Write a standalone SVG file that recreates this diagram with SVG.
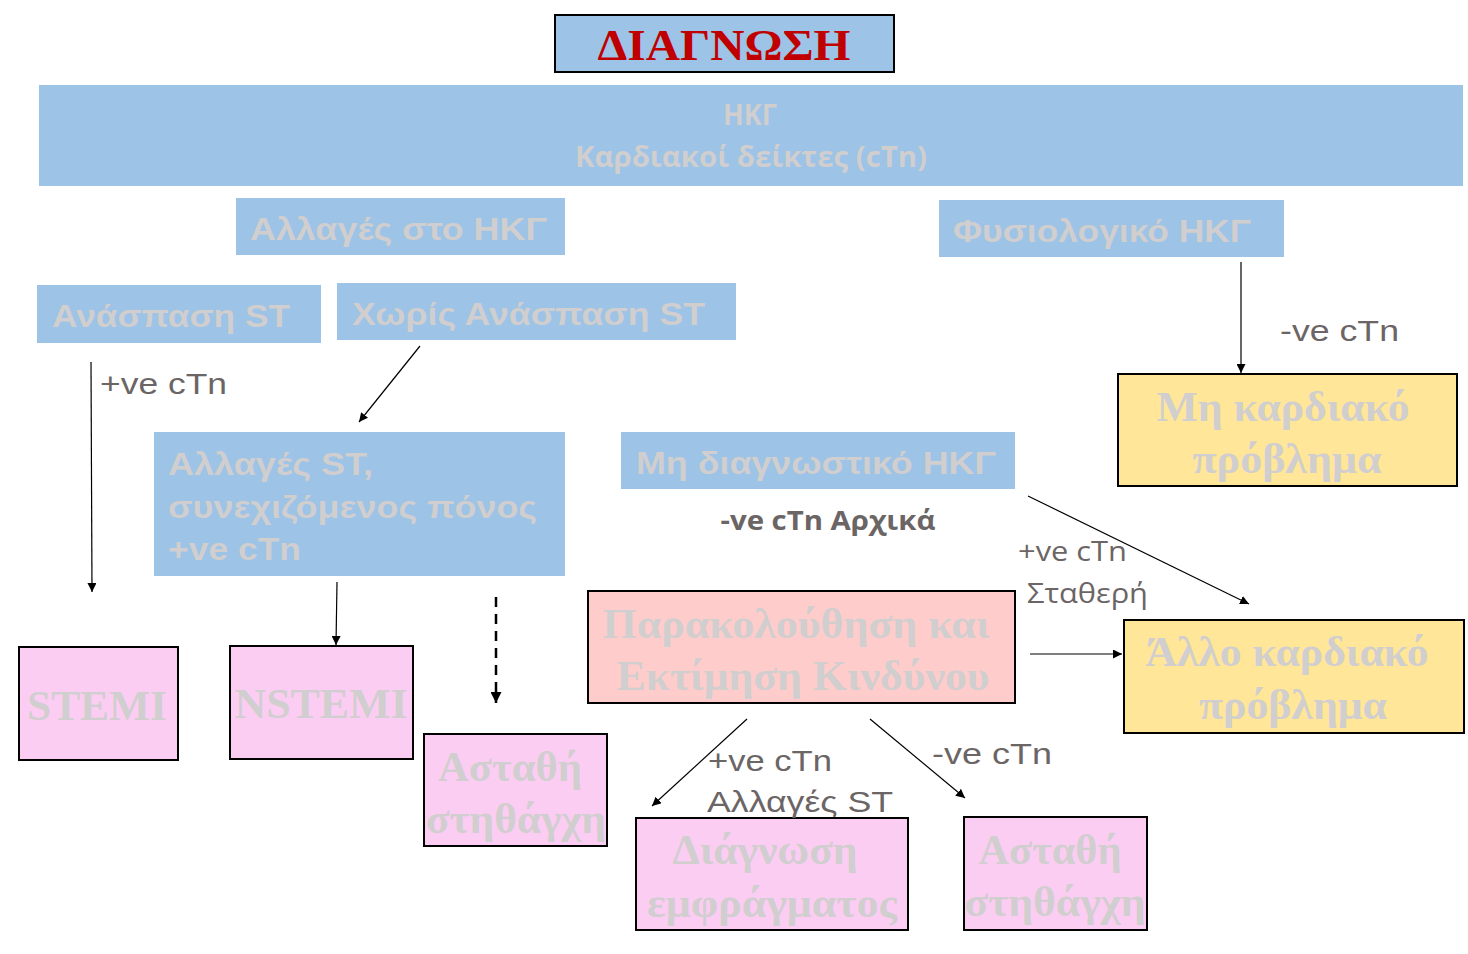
<svg xmlns="http://www.w3.org/2000/svg" width="1468" height="954" viewBox="0 0 1468 954">
<style>
.blue{fill:#9dc3e6}
.pink{fill:#fccdf3;stroke:#000;stroke-width:2}
.salmon{fill:#ffcccc;stroke:#000;stroke-width:2}
.yellow{fill:#ffe699;stroke:#000;stroke-width:2}
.st{font-family:"Liberation Sans",Arial,sans-serif;font-weight:bold;fill:#d0cece;font-size:32px}
.ser{font-family:"Liberation Serif","Times New Roman",serif;font-weight:bold;fill:#d0cece;font-size:43px}
.lbl{font-family:"Liberation Sans",Arial,sans-serif;fill:#6b6565;font-size:30px}
.lbl2{font-family:"Open Sans","DejaVu Sans",sans-serif;fill:#6b6565;font-size:27px}
.conn{stroke:#000;stroke-width:1.2;fill:none}
</style>
<defs>
<marker id="ah" viewBox="0 0 10 10" refX="10" refY="5" markerWidth="9" markerHeight="9" markerUnits="userSpaceOnUse" orient="auto">
<path d="M0,0 L10,5 L0,10 z" fill="#000"/>
</marker>
<marker id="ah2" viewBox="0 0 10 10" refX="10" refY="5" markerWidth="11" markerHeight="11" markerUnits="userSpaceOnUse" orient="auto">
<path d="M0,0 L10,5 L0,10 z" fill="#000"/>
</marker>
</defs>
<rect width="1468" height="954" fill="#fff"/>

<g id="title">
<rect x="555" y="15" width="339" height="57" class="blue" stroke="#000" stroke-width="2"/>
<text x="724" y="60" text-anchor="middle" font-family="Liberation Serif,'Times New Roman',serif" font-weight="bold" font-size="44" fill="#c00000" textLength="253" lengthAdjust="spacingAndGlyphs">ΔΙΑΓΝΩΣΗ</text>
</g>

<g id="banner">
<rect x="39" y="85" width="1424" height="101" class="blue"/>
<text x="750" y="125" text-anchor="middle" font-family="'Open Sans',sans-serif" font-weight="bold" font-size="28" fill="#d0cece" textLength="54" lengthAdjust="spacingAndGlyphs">ΗΚΓ</text>
<text x="751" y="167" text-anchor="middle" font-family="'Open Sans',sans-serif" font-weight="bold" font-size="28" fill="#d0cece" textLength="352" lengthAdjust="spacingAndGlyphs">Καρδιακοί δείκτες (cTn)</text>
</g>

<g id="n-changes">
<rect x="236" y="198" width="329" height="57" class="blue"/>
<text x="250" y="240" class="st" textLength="297" lengthAdjust="spacingAndGlyphs">Αλλαγές στο ΗΚΓ</text>
</g>

<g id="n-normal">
<rect x="939" y="200" width="345" height="57" class="blue"/>
<text x="953" y="242" class="st" textLength="298" lengthAdjust="spacingAndGlyphs">Φυσιολογικό ΗΚΓ</text>
</g>

<g id="n-ste">
<rect x="37" y="285" width="284" height="58" class="blue"/>
<text x="52" y="327" class="st" textLength="238" lengthAdjust="spacingAndGlyphs">Ανάσπαση ST</text>
</g>

<g id="n-nste">
<rect x="337" y="283" width="399" height="57" class="blue"/>
<text x="352" y="325" class="st" textLength="353" lengthAdjust="spacingAndGlyphs">Χωρίς Ανάσπαση ST</text>
</g>

<g id="n-stchanges">
<rect x="154" y="432" width="411" height="144" class="blue"/>
<text x="168" y="475" class="st" textLength="205" lengthAdjust="spacingAndGlyphs">Αλλαγές ST,</text>
<text x="168" y="518" class="st" textLength="369" lengthAdjust="spacingAndGlyphs">συνεχιζόμενος πόνος</text>
<text x="168" y="560" class="st" textLength="133" lengthAdjust="spacingAndGlyphs">+ve cTn</text>
</g>

<g id="n-nondiag">
<rect x="621" y="432" width="394" height="57" class="blue"/>
<text x="636" y="474" class="st" textLength="360" lengthAdjust="spacingAndGlyphs">Μη διαγνωστικό ΗΚΓ</text>
</g>

<g id="n-noncardiac">
<rect x="1118" y="374" width="339" height="112" class="yellow"/>
<text x="1283" y="421" class="ser" text-anchor="middle" textLength="253" lengthAdjust="spacingAndGlyphs">Μη καρδιακό</text>
<text x="1287" y="473" class="ser" text-anchor="middle" textLength="189" lengthAdjust="spacingAndGlyphs">πρόβλημα</text>
</g>

<g id="n-stemi">
<rect x="19" y="647" width="159" height="113" class="pink"/>
<text x="97" y="720" class="ser" text-anchor="middle" textLength="140" lengthAdjust="spacingAndGlyphs">STEMI</text>
</g>

<g id="n-nstemi">
<rect x="230" y="646" width="183" height="113" class="pink"/>
<text x="321" y="718" class="ser" text-anchor="middle" textLength="173" lengthAdjust="spacingAndGlyphs">NSTEMI</text>
</g>

<g id="n-ua1">
<rect x="424" y="734" width="183" height="112" class="pink"/>
<text x="510" y="781" class="ser" text-anchor="middle" textLength="144" lengthAdjust="spacingAndGlyphs">Ασταθή</text>
<text x="516" y="833" class="ser" text-anchor="middle" textLength="180" lengthAdjust="spacingAndGlyphs">στηθάγχη</text>
</g>

<g id="n-monitor">
<rect x="588" y="591" width="427" height="112" class="salmon"/>
<text x="796" y="638" class="ser" text-anchor="middle" textLength="387" lengthAdjust="spacingAndGlyphs">Παρακολούθηση και</text>
<text x="803" y="690" class="ser" text-anchor="middle" textLength="373" lengthAdjust="spacingAndGlyphs">Εκτίμηση Κινδύνου</text>
</g>

<g id="n-othercardiac">
<rect x="1124" y="620" width="340" height="113" class="yellow"/>
<text x="1287" y="666" class="ser" text-anchor="middle" textLength="283" lengthAdjust="spacingAndGlyphs">Άλλο καρδιακό</text>
<text x="1293" y="719" class="ser" text-anchor="middle" textLength="188" lengthAdjust="spacingAndGlyphs">πρόβλημα</text>
</g>

<g id="n-mi">
<rect x="636" y="818" width="272" height="112" class="pink"/>
<text x="765" y="864" class="ser" text-anchor="middle" textLength="185" lengthAdjust="spacingAndGlyphs">Διάγνωση</text>
<text x="772" y="917" class="ser" text-anchor="middle" textLength="250" lengthAdjust="spacingAndGlyphs">εμφράγματος</text>
</g>

<g id="n-ua2">
<rect x="964" y="817" width="183" height="113" class="pink"/>
<text x="1050" y="864" class="ser" text-anchor="middle" textLength="143" lengthAdjust="spacingAndGlyphs">Ασταθή</text>
<text x="1055" y="916" class="ser" text-anchor="middle" textLength="181" lengthAdjust="spacingAndGlyphs">στηθάγχη</text>
</g>

<g id="connectors">
<line x1="1241" y1="262" x2="1241" y2="373" class="conn" marker-end="url(#ah)"/>
<line x1="91" y1="362" x2="92" y2="592" class="conn" marker-end="url(#ah)"/>
<line x1="420" y1="346" x2="359" y2="422" class="conn" marker-end="url(#ah)"/>
<line x1="337" y1="582" x2="336" y2="645" class="conn" marker-end="url(#ah)"/>
<line x1="496" y1="597" x2="496" y2="703" stroke="#000" stroke-width="2.5" stroke-dasharray="10,7" marker-end="url(#ah2)"/>
<line x1="1030" y1="654" x2="1122" y2="654" class="conn" marker-end="url(#ah)"/>
<line x1="1028" y1="496" x2="1249" y2="604" class="conn" marker-end="url(#ah)"/>
<line x1="747" y1="719" x2="652" y2="806" class="conn" marker-end="url(#ah)"/>
<line x1="870" y1="719" x2="965" y2="798" class="conn" marker-end="url(#ah)"/>
</g>

<g id="labels">
<text x="1280" y="341" class="lbl" textLength="119" lengthAdjust="spacingAndGlyphs">-ve cTn</text>
<text x="100" y="394" class="lbl" textLength="127" lengthAdjust="spacingAndGlyphs">+ve cTn</text>
<text x="828" y="530" text-anchor="middle" font-family="'Open Sans',sans-serif" font-weight="bold" font-size="26" fill="#6b6565" textLength="215" lengthAdjust="spacingAndGlyphs">-ve cTn Αρχικά</text>
<text x="1018" y="561" class="lbl2" textLength="109" lengthAdjust="spacingAndGlyphs">+ve cTn</text>
<text x="1027" y="603" class="lbl2" textLength="121" lengthAdjust="spacingAndGlyphs">Σταθερή</text>
<text x="708" y="771" class="lbl" textLength="124" lengthAdjust="spacingAndGlyphs">+ve cTn</text>
<text x="707" y="812" class="lbl" textLength="186" lengthAdjust="spacingAndGlyphs">Αλλαγές ST</text>
<text x="932" y="764" class="lbl" textLength="120" lengthAdjust="spacingAndGlyphs">-ve cTn</text>
</g>
</svg>
